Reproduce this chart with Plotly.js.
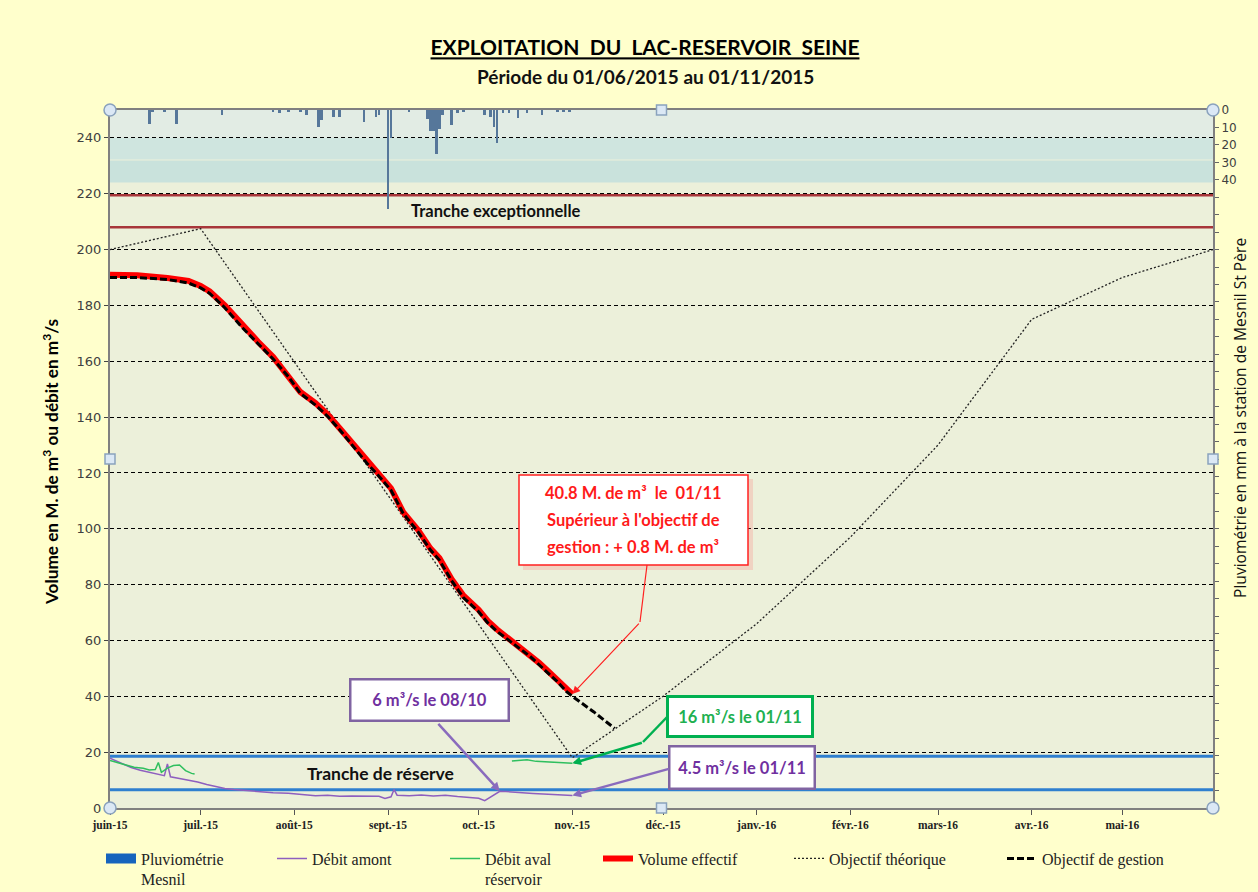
<!DOCTYPE html>
<html><head><meta charset="utf-8">
<script src="https://cdn.plot.ly/plotly-3.0.1.min.js"></script>
<style>html,body{margin:0;padding:0;background:#ffffcc;} #chart{width:1258px;height:892px;}</style>
</head><body><div id="chart"></div>
<script>
// ---------- DATA ----------
const monthTicks = ['2015-06-01','2015-07-01','2015-08-01','2015-09-01','2015-10-01','2015-11-01','2015-12-01','2016-01-01','2016-02-01','2016-03-01','2016-04-01','2016-05-01'];
const monthLabels = ['juin-15','juil.-15','août-15','sept.-15','oct.-15','nov.-15','déc.-15','janv.-16','févr.-16','mars-16','avr.-16','mai-16'];

// Pluviométrie Mesnil (mm)
const rainDates = ['2015-06-14','2015-06-15','2015-06-19','2015-06-23','2015-07-08','2015-07-25','2015-07-27','2015-07-30','2015-08-03','2015-08-05','2015-08-09','2015-08-10','2015-08-14','2015-08-16','2015-08-24','2015-08-28','2015-08-29','2015-09-01','2015-09-02','2015-09-08','2015-09-14','2015-09-15','2015-09-16','2015-09-17','2015-09-18','2015-09-19','2015-09-22','2015-09-24','2015-09-26','2015-10-03','2015-10-05','2015-10-06','2015-10-07','2015-10-09','2015-10-11','2015-10-14','2015-10-17','2015-10-22','2015-10-27','2015-10-29','2015-10-31'];
const rainMm    = [8,1,1,8,3,1,2,1,1,3,9.5,6,4,4,7,4,3,57,16,1,5,12,12,25,11,3,8.5,1.5,1,3,4,10,19,2,2,4.5,2,3,1,1,1];

// Débit amont (m3/s)
const amontDates = ['2015-06-01','2015-06-03','2015-06-05','2015-06-08','2015-06-11','2015-06-14','2015-06-17','2015-06-19','2015-06-20','2015-06-21','2015-06-24','2015-06-27','2015-06-30','2015-07-03','2015-07-06','2015-07-09','2015-07-12','2015-07-15','2015-07-18','2015-07-21','2015-07-25','2015-07-30','2015-08-03','2015-08-08','2015-08-12','2015-08-16','2015-08-20','2015-08-25','2015-08-29','2015-08-31','2015-09-02','2015-09-03','2015-09-04','2015-09-08','2015-09-12','2015-09-16','2015-09-20','2015-09-24','2015-09-28','2015-10-01','2015-10-03','2015-10-05','2015-10-07','2015-10-08','2015-10-10','2015-10-14','2015-10-19','2015-10-24','2015-10-28','2015-11-01'];
const amontFlow  = [17.8,16.8,15.8,14.5,13.5,12.8,12.0,11.6,15.8,11.2,10.6,10.0,9.3,8.4,7.6,7.0,6.6,6.3,6.0,5.7,5.5,5.3,4.9,4.4,4.6,4.2,4.3,4.1,4.2,3.4,4.0,6.6,4.6,4.4,4.7,4.3,4.6,4.1,3.9,3.5,2.6,3.9,5.2,6.0,5.9,5.5,5.2,4.9,4.6,4.5];

// Débit aval réservoir (m3/s)
const avalDates = ['2015-06-01','2015-06-03','2015-06-06','2015-06-09','2015-06-12','2015-06-14','2015-06-16','2015-06-17','2015-06-18','2015-06-20','2015-06-22','2015-06-24','2015-06-26','2015-06-28','2015-06-29','2015-07-01','2015-10-12','2015-10-14','2015-10-17','2015-10-20','2015-10-24','2015-10-28','2015-11-01'];
const avalFlow  = [17.0,16.5,15.5,14.6,14.2,13.6,13.8,16.3,12.8,14.3,15.2,15.4,13.4,12.4,12.2,null,16.8,17.0,17.3,16.7,16.5,16.3,16.0];

// Volume effectif (M. de m3)
const volumeDates = ['2015-06-01','2015-06-10','2015-06-20','2015-06-27','2015-07-01','2015-07-04','2015-07-09','2015-07-15','2015-07-20','2015-07-25','2015-07-30','2015-08-03','2015-08-08','2015-08-12','2015-08-16','2015-08-20','2015-08-25','2015-08-29','2015-09-02','2015-09-06','2015-09-11','2015-09-15','2015-09-18','2015-09-22','2015-09-26','2015-10-01','2015-10-04','2015-10-07','2015-10-10','2015-10-14','2015-10-18','2015-10-21','2015-10-24','2015-10-27','2015-10-30','2015-11-01'];
const volumeValues = [191,190.8,189.8,188.8,187,185,180,172.5,167,161.5,155,149,145,141,136,131,124,119.5,114.5,106,99.5,93,89.5,82,76,71,67,64,61.5,58.5,55,52,49,46,42.5,40.8];

// Objectif de gestion (M. de m3)
const gestionDates = ['2015-06-01','2015-06-10','2015-06-20','2015-06-27','2015-07-01','2015-07-04','2015-07-09','2015-07-15','2015-07-20','2015-07-25','2015-07-30','2015-08-03','2015-08-08','2015-08-12','2015-08-16','2015-08-20','2015-08-25','2015-08-29','2015-09-02','2015-09-06','2015-09-11','2015-09-15','2015-09-18','2015-09-22','2015-09-26','2015-10-01','2015-10-04','2015-10-07','2015-10-10','2015-10-14','2015-10-18','2015-10-21','2015-10-24','2015-10-27','2015-10-30','2015-11-01','2015-11-08','2015-11-15'];
const gestionValues = [190,190,189.3,188,186.3,184.3,179.2,171.8,166.3,160.8,154.5,148.5,144.3,140.3,135.5,130.3,123.5,118.8,113.8,105.5,98.8,92.5,88.8,81.5,75.3,70.3,66.3,63.3,60.8,57.8,54.3,51.3,48.3,45.3,41.8,40,34.5,28.5];

// Objectif théorique (M. de m3)
const theoDates  = ['2015-06-01','2015-07-01','2015-11-01','2015-12-01','2016-01-01','2016-02-01','2016-03-01','2016-04-01','2016-05-01','2016-05-31'];
const theoValues = [200,207.5,18,40,66,97,130,175,190,200];

// Tranches (M. de m3)
const exceptionTop = 219.5, exceptionBottom = 208;
const reserveTop = 18.5, reserveBottom = 6.5;

// ---------- LAYOUT HELPERS ----------
const L = 110, R = 1213, T = 110, B = 808;
const px = x => (x - L) / (R - L);
const py = y => (B - y) / (B - T);
const FONT = 'Lato, "Open Sans", sans-serif';
const SERIF = '"Liberation Serif", "Times New Roman", serif';

const traces = [
  {type:'bar', x: rainDates, y: rainMm, yaxis:'y2', width: 86400000*0.85,
   marker:{color:'#56779a', line:{width:0}}, showlegend:false, hoverinfo:'x+y'},
  {type:'scatter', mode:'lines', x: amontDates, y: amontFlow, line:{color:'#8e5fbf', width:1.5},
   name:'Débit amont', legend:'legend2'},
  {type:'scatter', mode:'lines', x: avalDates, y: avalFlow, connectgaps:false, line:{color:'#2fbf5f', width:1.5},
   name:'Débit aval<br>réservoir', legend:'legend3'},
  {type:'scatter', mode:'lines', x: theoDates, y: theoValues, line:{color:'#222', width:1.3, dash:'2px,2px'},
   name:'Objectif théorique', legend:'legend5'},
  {type:'scatter', mode:'lines', x: volumeDates, y: volumeValues, line:{color:'#ff0000', width:6},
   name:'Volume effectif', legend:'legend4'},
  {type:'scatter', mode:'lines', x: gestionDates, y: gestionValues, line:{color:'#000', width:3, dash:'7px,3px'},
   name:'Objectif de gestion', legend:'legend6'},
  {type:'scatter', mode:'lines', x:[null], y:[null], line:{color:'#1664bd', width:12},
   name:'Pluviométrie<br>Mesnil', legend:'legend'}
];

function leg(x){
  return {x: x, xanchor:'left', y: -0.048, yanchor:'top', orientation:'h', valign:'top',
          bgcolor:'rgba(0,0,0,0)', font:{family:SERIF, size:16, color:'#222'}, itemclick:false};
}

const handleStyle = {fillcolor:'#dbe8f5', line:{color:'#8aa2bd', width:1.5}, layer:'above'};
function handle(type, xp, yp, r){
  return Object.assign({type:type, xref:'paper', yref:'paper', xsizemode:'pixel', ysizemode:'pixel',
    xanchor:xp, yanchor:yp, x0:-r, x1:r, y0:-r, y1:r}, handleStyle);
}

const volEndDate = volumeDates[volumeDates.length-1], volEnd = volumeValues[volumeValues.length-1];
const avalEndDate = avalDates[avalDates.length-1], avalEnd = avalFlow[avalFlow.length-1];
const amontEndDate = amontDates[amontDates.length-1], amontEnd = amontFlow[amontFlow.length-1];
const i08 = amontDates.indexOf('2015-10-08');

const shapes = [
  // background bands of the rain area
  {type:'rect', xref:'paper', x0:0, x1:1, yref:'y', y0:240, y1:250, fillcolor:'#e2ece4', line:{width:0}, layer:'below'},
  {type:'rect', xref:'paper', x0:0, x1:1, yref:'y', y0:232.3, y1:240, fillcolor:'#cfe5df', line:{width:0}, layer:'below'},
  {type:'rect', xref:'paper', x0:0, x1:1, yref:'y', y0:224, y1:231.9, fillcolor:'#c9e2dc', line:{width:0}, layer:'below'},
  // tranche lines
  {type:'line', xref:'paper', x0:0, x1:1, yref:'y', y0:exceptionTop, y1:exceptionTop, line:{color:'#a8363a', width:2.5}, layer:'between'},
  {type:'line', xref:'paper', x0:0, x1:1, yref:'y', y0:exceptionBottom, y1:exceptionBottom, line:{color:'#a8363a', width:2.5}, layer:'between'},
  {type:'line', xref:'paper', x0:0, x1:1, yref:'y', y0:reserveTop, y1:reserveTop, line:{color:'#2f7fcf', width:3}, layer:'between'},
  {type:'line', xref:'paper', x0:0, x1:1, yref:'y', y0:reserveBottom, y1:reserveBottom, line:{color:'#2f7fcf', width:3}, layer:'between'},
  // red callout box (shadow + box)
  {type:'rect', xref:'paper', yref:'paper', x0:px(523), x1:px(753), y0:py(570), y1:py(479), fillcolor:'rgba(255,110,110,0.22)', line:{width:0}, layer:'above'},
  {type:'rect', xref:'paper', yref:'paper', x0:px(519), x1:px(748), y0:py(565), y1:py(475), fillcolor:'#ffffff', line:{color:'#ff2020', width:1.5}, layer:'above'},
  // bent connectors
  {type:'line', xref:'paper', yref:'paper', x0:px(640), y0:py(622), x1:px(647), y1:py(565), line:{color:'#ff2020', width:1.2}, layer:'above'},
  {type:'line', xref:'paper', yref:'paper', x0:px(643), y0:py(742), x1:px(669), y1:py(715), line:{color:'#00b050', width:2.5}, layer:'above'},
  // selection handles
  handle('circle',0,1,6), handle('circle',1,1,6), handle('circle',0,0,6), handle('circle',1,0,6),
  handle('rect',0.5,1,5), handle('rect',0.5,0,5), handle('rect',0,0.5,5), handle('rect',1,0.5,5)
];

const C = {xanchor:'center', yanchor:'middle', showarrow:false};
const annotations = [
  Object.assign({text:'<b>Période du 01/06/2015 au 01/11/2015</b>', xref:'paper', yref:'paper', x:px(645), y:py(76),
   font:{family:FONT, size:19, color:'#111'}}, C),
  Object.assign({text:'<b>Volume en M. de m<sup>3</sup> ou débit en m<sup>3</sup>/s</b>', xref:'paper', yref:'paper',
   x:px(50), y:py(462), textangle:-90, font:{family:FONT, size:17.2, color:'#000'}}, C),
  Object.assign({text:'Pluviométrie en mm à la station de Mesnil St Père', xref:'paper', yref:'paper',
   x:px(1240), y:py(418), textangle:-90, font:{family:'"Open Sans", sans-serif', size:15.6, color:'#111'}}, C),
  Object.assign({text:'<b>Tranche exceptionnelle</b>', xref:'paper', yref:'y', x:px(496), y:(exceptionTop+exceptionBottom)/2,
   font:{family:FONT, size:16.5, color:'#111'}}, C),
  Object.assign({text:'<b>Tranche de réserve</b>', xref:'paper', yref:'y', x:px(380), y:(reserveTop+reserveBottom)/2,
   font:{family:FONT, size:17.5, color:'#111'}}, C),
  // red callout text
  Object.assign({text:'<b>40.8 M. de m³  le  01/11</b>', xref:'paper', yref:'paper', x:px(633), y:py(493), font:{family:FONT, size:16.5, color:'#ff1a1a'}}, C),
  Object.assign({text:"<b>Supérieur à l'objectif de</b>", xref:'paper', yref:'paper', x:px(633), y:py(520), font:{family:FONT, size:16.5, color:'#ff1a1a'}}, C),
  Object.assign({text:'<b>gestion : + 0.8 M. de m³</b>', xref:'paper', yref:'paper', x:px(633), y:py(547), font:{family:FONT, size:16.5, color:'#ff1a1a'}}, C),
  // red arrow
  {x: volEndDate, y: volEnd, xref:'x', yref:'y', text:' ', font:{size:1}, showarrow:true, arrowhead:2, arrowsize:1.3,
   arrowwidth:1.2, arrowcolor:'#ff2020', ax:68, ay:-72, standoff:0},
  // purple box 6 m3/s
  Object.assign({text:'<b>6 m³/s le 08/10</b>', xref:'paper', yref:'paper', x:px(429), y:py(700),
   bgcolor:'#ffffff', bordercolor:'#8064a2', borderwidth:2.5, borderpad:4, width:148, height:31,
   font:{family:FONT, size:16.5, color:'#7030a0'}}, C),
  {x: amontDates[i08], y: amontFlow[i08], xref:'x', yref:'y', text:' ', font:{size:1}, showarrow:true, arrowhead:2, arrowsize:0.7,
   arrowwidth:2.5, arrowcolor:'#8a6bbd', ax:-63, ay:-69, standoff:0},
  // green box
  Object.assign({text:'<b>16 m³/s le 01/11</b>', xref:'paper', yref:'paper', x:px(740), y:py(716),
   bgcolor:'#ffffff', bordercolor:'#00b050', borderwidth:3, borderpad:4, width:134, height:29,
   font:{family:FONT, size:16.5, color:'#20b050'}}, C),
  {x: avalEndDate, y: avalEnd, xref:'x', yref:'y', text:' ', font:{size:1}, showarrow:true, arrowhead:2, arrowsize:0.7,
   arrowwidth:2.5, arrowcolor:'#00b050', ax:71, ay:-21, standoff:0},
  // purple box 4.5
  Object.assign({text:'<b>4.5 m³/s le 01/11</b>', xref:'paper', yref:'paper', x:px(742), y:py(767),
   bgcolor:'#ffffff', bordercolor:'#8064a2', borderwidth:2.5, borderpad:4, width:135, height:32,
   font:{family:FONT, size:16.5, color:'#7030a0'}}, C),
  {x: amontEndDate, y: amontEnd, xref:'x', yref:'y', text:' ', font:{size:1}, showarrow:true, arrowhead:2, arrowsize:0.7,
   arrowwidth:2.5, arrowcolor:'#8a6bbd', ax:98, ay:-27, standoff:0}
];

const rainTickVals = [], rainTickText = [];
for (let v = 0; v <= 400; v += 10) { rainTickVals.push(v); rainTickText.push(v <= 40 ? String(v) : ''); }

const layout = {
  width:1258, height:892,
  paper_bgcolor:'#ffffcc', plot_bgcolor:'#ecf0da',
  margin:{l:L, r:1258-R, t:T, b:892-B, autoexpand:false},
  title:{text:'<b><u>EXPLOITATION\u00a0 DU\u00a0 LAC-RESERVOIR\u00a0 SEINE</u></b>', x:645/1258, xanchor:'center',
         y:1-48/892, yanchor:'middle', font:{family:FONT, size:21, color:'#000'}},
  xaxis:{type:'date', range:['2015-06-01','2016-05-31'], tickvals:monthTicks, ticktext:monthLabels,
         ticks:'outside', ticklen:5, tickcolor:'#555', showgrid:false, zeroline:false,
         showline:true, linecolor:'#808080', linewidth:2, mirror:true,
         tickfont:{family:SERIF, size:11.5, color:'#222', weight:'bold'}},
  yaxis:{range:[0,250], tickvals:[0,20,40,60,80,100,120,140,160,180,200,220,240], ticks:'outside', ticklen:4, tickcolor:'#444',
         showgrid:true, gridcolor:'#000', gridwidth:1, griddash:'4px,3px', zeroline:false,
         showline:true, linecolor:'#808080', linewidth:2,
         tickfont:{family:'"DejaVu Sans", sans-serif', size:13, color:'#404040'}},
  yaxis2:{overlaying:'y', side:'right', anchor:'x', range:[400,0], tickvals:rainTickVals, ticktext:rainTickText,
          ticks:'outside', ticklen:4, tickcolor:'#666', showgrid:false, zeroline:false,
          showline:true, linecolor:'#808080', linewidth:2,
          tickfont:{family:'"DejaVu Sans", sans-serif', size:12, color:'#404040'}},
  bargap:0,
  shapes:shapes,
  annotations:annotations,
  legend: leg(px(101)),
  legend2: leg(px(272)),
  legend3: leg(px(445)),
  legend4: leg(px(598)),
  legend5: leg(px(789)),
  legend6: leg(px(1002)),
  showlegend:true
};

Plotly.newPlot('chart', traces, layout, {displayModeBar:false, staticPlot:true});
</script></body></html>
